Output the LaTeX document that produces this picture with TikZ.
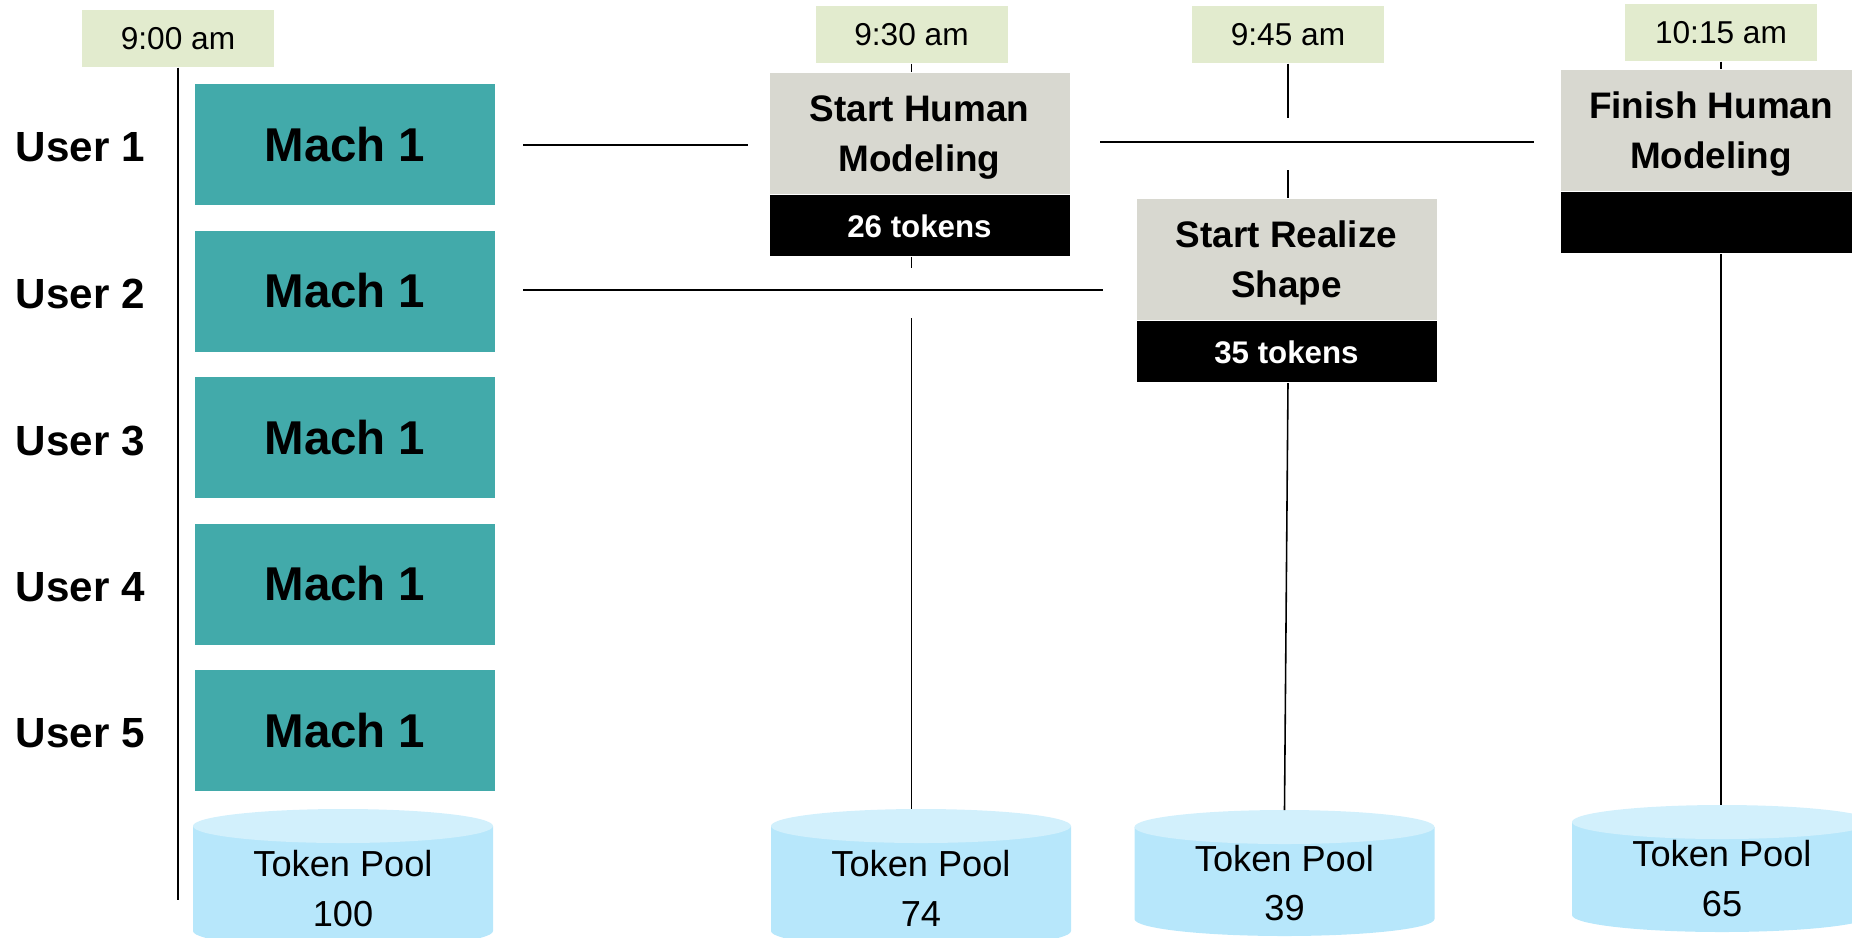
\documentclass[tikz,border=0pt]{standalone}
\usepackage{fontspec}
\setmainfont{Liberation Sans}
\usepackage{tikz}
\usetikzlibrary{positioning, calc}
\definecolor{timeGreen}{RGB}{226,235,206}
\definecolor{machTeal}{RGB}{66,170,170}
\definecolor{taskGray}{RGB}{216,216,208}
\definecolor{poolBlue}{RGB}{183,231,251}
\definecolor{poolTop}{RGB}{210,240,252}

\begin{document}
\begin{tikzpicture}[
    timebox/.style={fill=timeGreen, minimum width=1.92cm, minimum height=0.57cm,
                    inner sep=0pt, font=\fontsize{9}{11}\selectfont},
    machbox/.style={fill=machTeal, minimum width=3cm, minimum height=1.21cm,
                    inner sep=0pt, font=\fontsize{13.5}{16}\selectfont\bfseries},
    userlabel/.style={anchor=west, inner sep=0pt, font=\fontsize{12}{14}\selectfont\bfseries},
    taskhead/.style={fill=taskGray, minimum width=3cm, minimum height=1.21cm, inner sep=0pt,
                     text depth=0pt, align=center, font=\fontsize{10.5}{14.2}\selectfont\bfseries},
    tasktokens/.style={fill=black, text=white, minimum width=3cm, minimum height=0.61cm,
                       inner sep=0pt, font=\fontsize{8.9}{11}\selectfont\bfseries},
    pooltext/.style={inner sep=0pt, align=center, font=\fontsize{10.3}{14.2}\selectfont},
    link/.style={black, line width=0.45pt}
  ]
  \clip (0,0) rectangle (18.52,-9.37);

  % time stamps
  \node[timebox] (t900) at (1.78,-0.385) {9:00 am};
  \node[timebox] (t930) at (9.115,-0.345) {9:30 am};
  \node[timebox] (t945) at (12.88,-0.345) {9:45 am};
  \node[timebox] (t1015) at (17.21,-0.325) {10:15 am};

  % users and machines
  \foreach \i in {1,...,5} {
    \node[machbox] (mach\i) at (3.45,{-1.445-(\i-1)*1.465}) {Mach 1};
    \node[userlabel] (user\i) at (0.15,{-1.475-(\i-1)*1.465}) {User \i};
  }

  % tasks
  \node[taskhead] (task1) at (9.195,-1.335) {Start Human\\Modeling};
  \node[tasktokens, below=0pt of task1] (tok1) {26 tokens};
  \node[taskhead] (task2) at (12.865,-2.595) {Start Realize\\Shape};
  \node[tasktokens, below=0pt of task2] (tok2) {35 tokens};
  \node[taskhead] (task3) at (17.11,-1.305) {Finish Human\\Modeling};
  \node[tasktokens, below=0pt of task3] (tok3) {};

  % token pools (drawn as cylinders)
  \foreach \k/\cx/\yt/\yb/\amt in {1/3.43/8.09/9.48/100, 2/9.21/8.09/9.48/74,
                                   3/12.845/8.10/9.36/39, 4/17.22/8.05/9.32/65} {
    \fill[poolBlue] (\cx-1.5,-\yt-0.17) -- (\cx-1.5,-\yb+0.17)
      arc[start angle=180, end angle=360, x radius=1.5, y radius=0.17]
      -- (\cx+1.5,-\yt-0.17) -- cycle;
    \fill[poolTop] (\cx,-\yt-0.17) ellipse [x radius=1.5, y radius=0.17];
    \coordinate (pool\k) at (\cx,-\yt);
    \node[pooltext] (pooltxt\k) at (\cx,{-(\yt+\yb)/2-0.1}) {Token Pool\\\amt};
  }

  % timelines
  \draw[link] (t900.south) -- (t900.south |- 0,-9.0);
  \draw[link] (t930.south) -- (t930.south |- task1.north);
  \draw[link] (t930.south |- tok1.south) -- ++(0,-0.11);
  \draw[link] (t930.south |- 0,-3.18) -- (t930.south |- pool2);
  \draw[link] (t945.south) -- ++(0,-0.54);
  \draw[link] (t945.south |- 0,-1.70) -- (t945.south |- task2.north);
  \draw[link] (t945.south |- tok2.south) -- (pool3);
  \draw[link] (t1015.south) -- (t1015.south |- task3.north);
  \draw[link] (t1015.south |- tok3.south) -- (t1015.south |- pool4);

  % user rows
  \coordinate (u1a) at (5.23,-1.45);
  \coordinate (u1b) at (7.48,-1.45);
  \coordinate (u1c) at (11.00,-1.42);
  \coordinate (u1d) at (15.34,-1.42);
  \coordinate (u2a) at (5.23,-2.90);
  \coordinate (u2b) at (11.03,-2.90);
  \draw[link] (u1a) -- (u1b);
  \draw[link] (u1c) -- (u1d);
  \draw[link] (u2a) -- (u2b);
\end{tikzpicture}
\end{document}
